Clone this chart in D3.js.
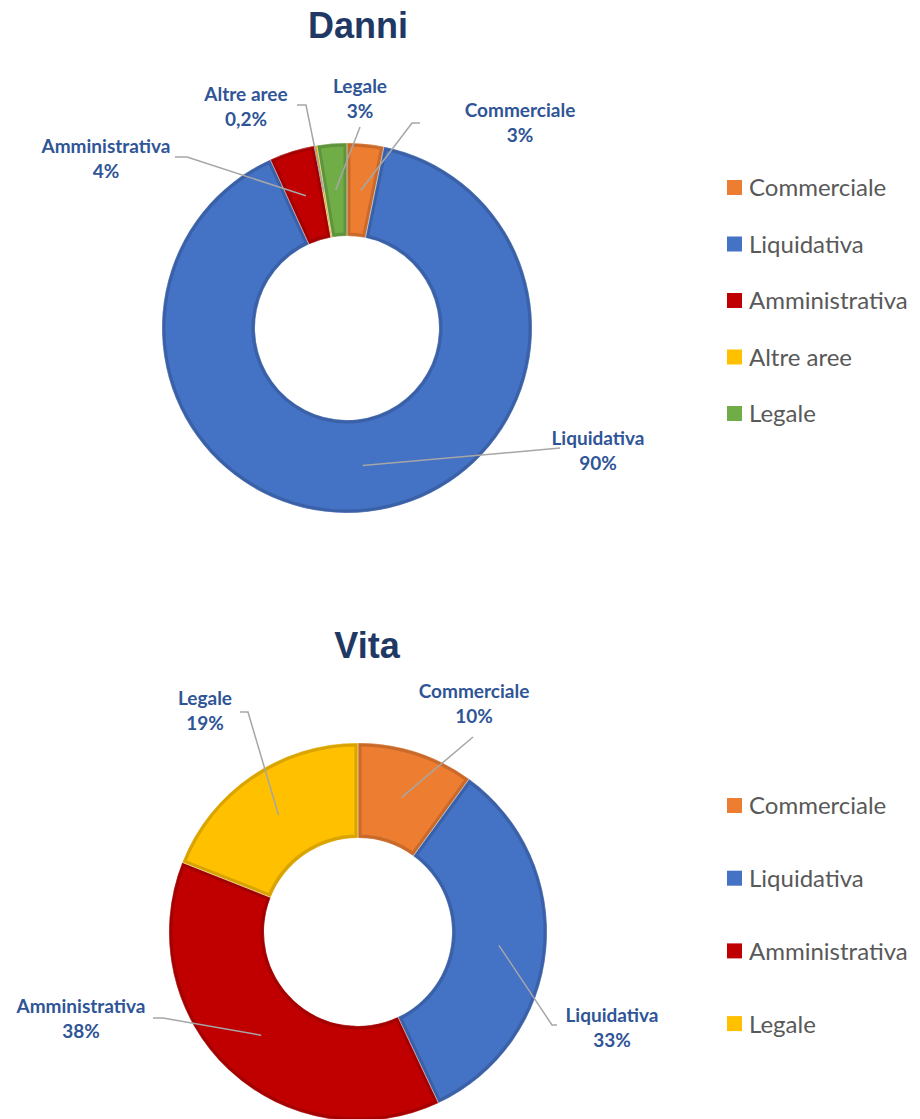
<!DOCTYPE html>
<html>
<head>
<meta charset="utf-8">
<script src="https://cdn.jsdelivr.net/npm/d3@7"></script>
<style>
  html, body { margin: 0; padding: 0; background: #ffffff; }
  svg { display: block; }
</style>
</head>
<body>
<svg id="chart" width="920" height="1119"></svg>
<script>
// ---------- DATA ----------
const danniCategories = ["Commerciale", "Liquidativa", "Amministrativa", "Altre aree", "Legale"];
const danniValues     = [3.2, 90.0, 4.0, 0.2, 2.6];
const danniLabels     = ["3%", "90%", "4%", "0,2%", "3%"];

const vitaCategories  = ["Commerciale", "Liquidativa", "Amministrativa", "Legale"];
const vitaValues      = [10, 33, 38, 19];
const vitaLabels      = ["10%", "33%", "38%", "19%"];

const categoryColors = {
  "Commerciale": "#ED7D31",
  "Liquidativa": "#4472C4",
  "Amministrativa": "#C00000",
  "Altre aree": "#FFC000",
  "Legale": "#70AD47"
};
const vitaColors = {
  "Commerciale": "#ED7D31",
  "Liquidativa": "#4472C4",
  "Amministrativa": "#C00000",
  "Legale": "#FFC000"
};

// ---------- LAYOUT ----------
const charts = [
  {
    id: "danni", title: "Danni", titleX: 358, titleY: 38,
    cx: 347, cy: 328, r: 185, ir: 92,
    categories: danniCategories, values: danniValues, labels: danniLabels, colors: categoryColors,
    labelPos: [
      { x: 520, y: 117, pts: [[412, 123], [420, 123]] },
      { x: 598, y: 445, pts: [[560, 448]] },
      { x: 106, y: 153, pts: [[187, 157], [175, 157]] },
      { x: 246, y: 101, pts: [[306, 105], [297, 105]] },
      { x: 360, y: 93,  pts: [[360, 127]] }
    ],
    legendX: 727, legendY: 188, legendStep: 56.5
  },
  {
    id: "vita", title: "Vita", titleX: 367, titleY: 658,
    cx: 358, cy: 932, r: 189, ir: 94,
    categories: vitaCategories, values: vitaValues, labels: vitaLabels, colors: vitaColors,
    labelPos: [
      { x: 474, y: 698,  pts: [[473, 737]] },
      { x: 612, y: 1022, pts: [[552, 1025], [557, 1025]] },
      { x: 81,  y: 1013, pts: [[163, 1018], [153, 1018]] },
      { x: 205, y: 705,  pts: [[248, 712], [240, 712]] }
    ],
    legendX: 727, legendY: 806, legendStep: 72.7
  }
];

const svg = d3.select("#chart");
const labelFont = "Lato, 'Noto Sans', sans-serif";
const defs = svg.append("defs");

charts.forEach((c) => {
  const g = svg.append("g").attr("id", c.id);

  // title
  g.append("text")
    .attr("x", c.titleX).attr("y", c.titleY)
    .attr("text-anchor", "middle")
    .attr("font-family", "'Liberation Sans', Arial, sans-serif")
    .attr("font-weight", "bold")
    .attr("font-size", 36)
    .attr("fill", "#1F3864")
    .text(c.title);

  const data = c.categories.map((k, i) => ({ key: k, value: c.values[i], label: c.labels[i], i }));
  const pie = d3.pie().value(d => d.value).sort(null);
  const arcs = pie(data);
  const arc = d3.arc().innerRadius(c.ir).outerRadius(c.r);

  const pg = g.append("g").attr("transform", `translate(${c.cx},${c.cy})`);

  arcs.forEach((a, i) => {
    const col = c.colors[a.data.key];
    const clipId = `clip-${c.id}-${i}`;
    defs.append("clipPath").attr("id", clipId)
      .append("path").attr("d", arc(a));
    pg.append("path")
      .attr("d", arc(a))
      .attr("fill", col)
      .attr("stroke", d3.color(col).darker(0.45))
      .attr("stroke-width", 7)
      .attr("clip-path", `url(#${clipId})`);
  });
  arcs.forEach((a) => {
    pg.append("path")
      .attr("d", arc(a))
      .attr("fill", "none")
      .attr("stroke", "rgba(255,255,255,0.3)")
      .attr("stroke-width", 1);
  });

  // leader lines
  arcs.forEach((a, i) => {
    const cen = arc.centroid(a);
    const start = [c.cx + cen[0], c.cy + cen[1]];
    const pts = [start].concat(c.labelPos[i].pts);
    g.append("path")
      .attr("d", d3.line()(pts))
      .attr("fill", "none")
      .attr("stroke", "#A6A6A6")
      .attr("stroke-width", 1.5);
  });

  // data labels
  arcs.forEach((a, i) => {
    const lp = c.labelPos[i];
    const t = g.append("text")
      .attr("text-anchor", "middle")
      .attr("font-family", labelFont)
      .attr("font-weight", "bold")
      .attr("font-size", 19)
      .attr("fill", "#2F5597");
    t.append("tspan").attr("x", lp.x).attr("y", lp.y).text(a.data.key);
    t.append("tspan").attr("x", lp.x).attr("y", lp.y + 25).text(a.data.label);
  });

  // legend
  const lg = g.append("g");
  c.categories.forEach((k, i) => {
    const y = c.legendY + i * c.legendStep;
    lg.append("rect")
      .attr("x", c.legendX).attr("y", y - 8)
      .attr("width", 15).attr("height", 15)
      .attr("fill", c.colors[k]);
    lg.append("text")
      .attr("x", c.legendX + 22).attr("y", y)
      .attr("dy", "0.35em")
      .attr("font-family", labelFont)
      .attr("font-size", 24)
      .attr("fill", "#595959")
      .text(k);
  });
});
</script>
</body>
</html>
